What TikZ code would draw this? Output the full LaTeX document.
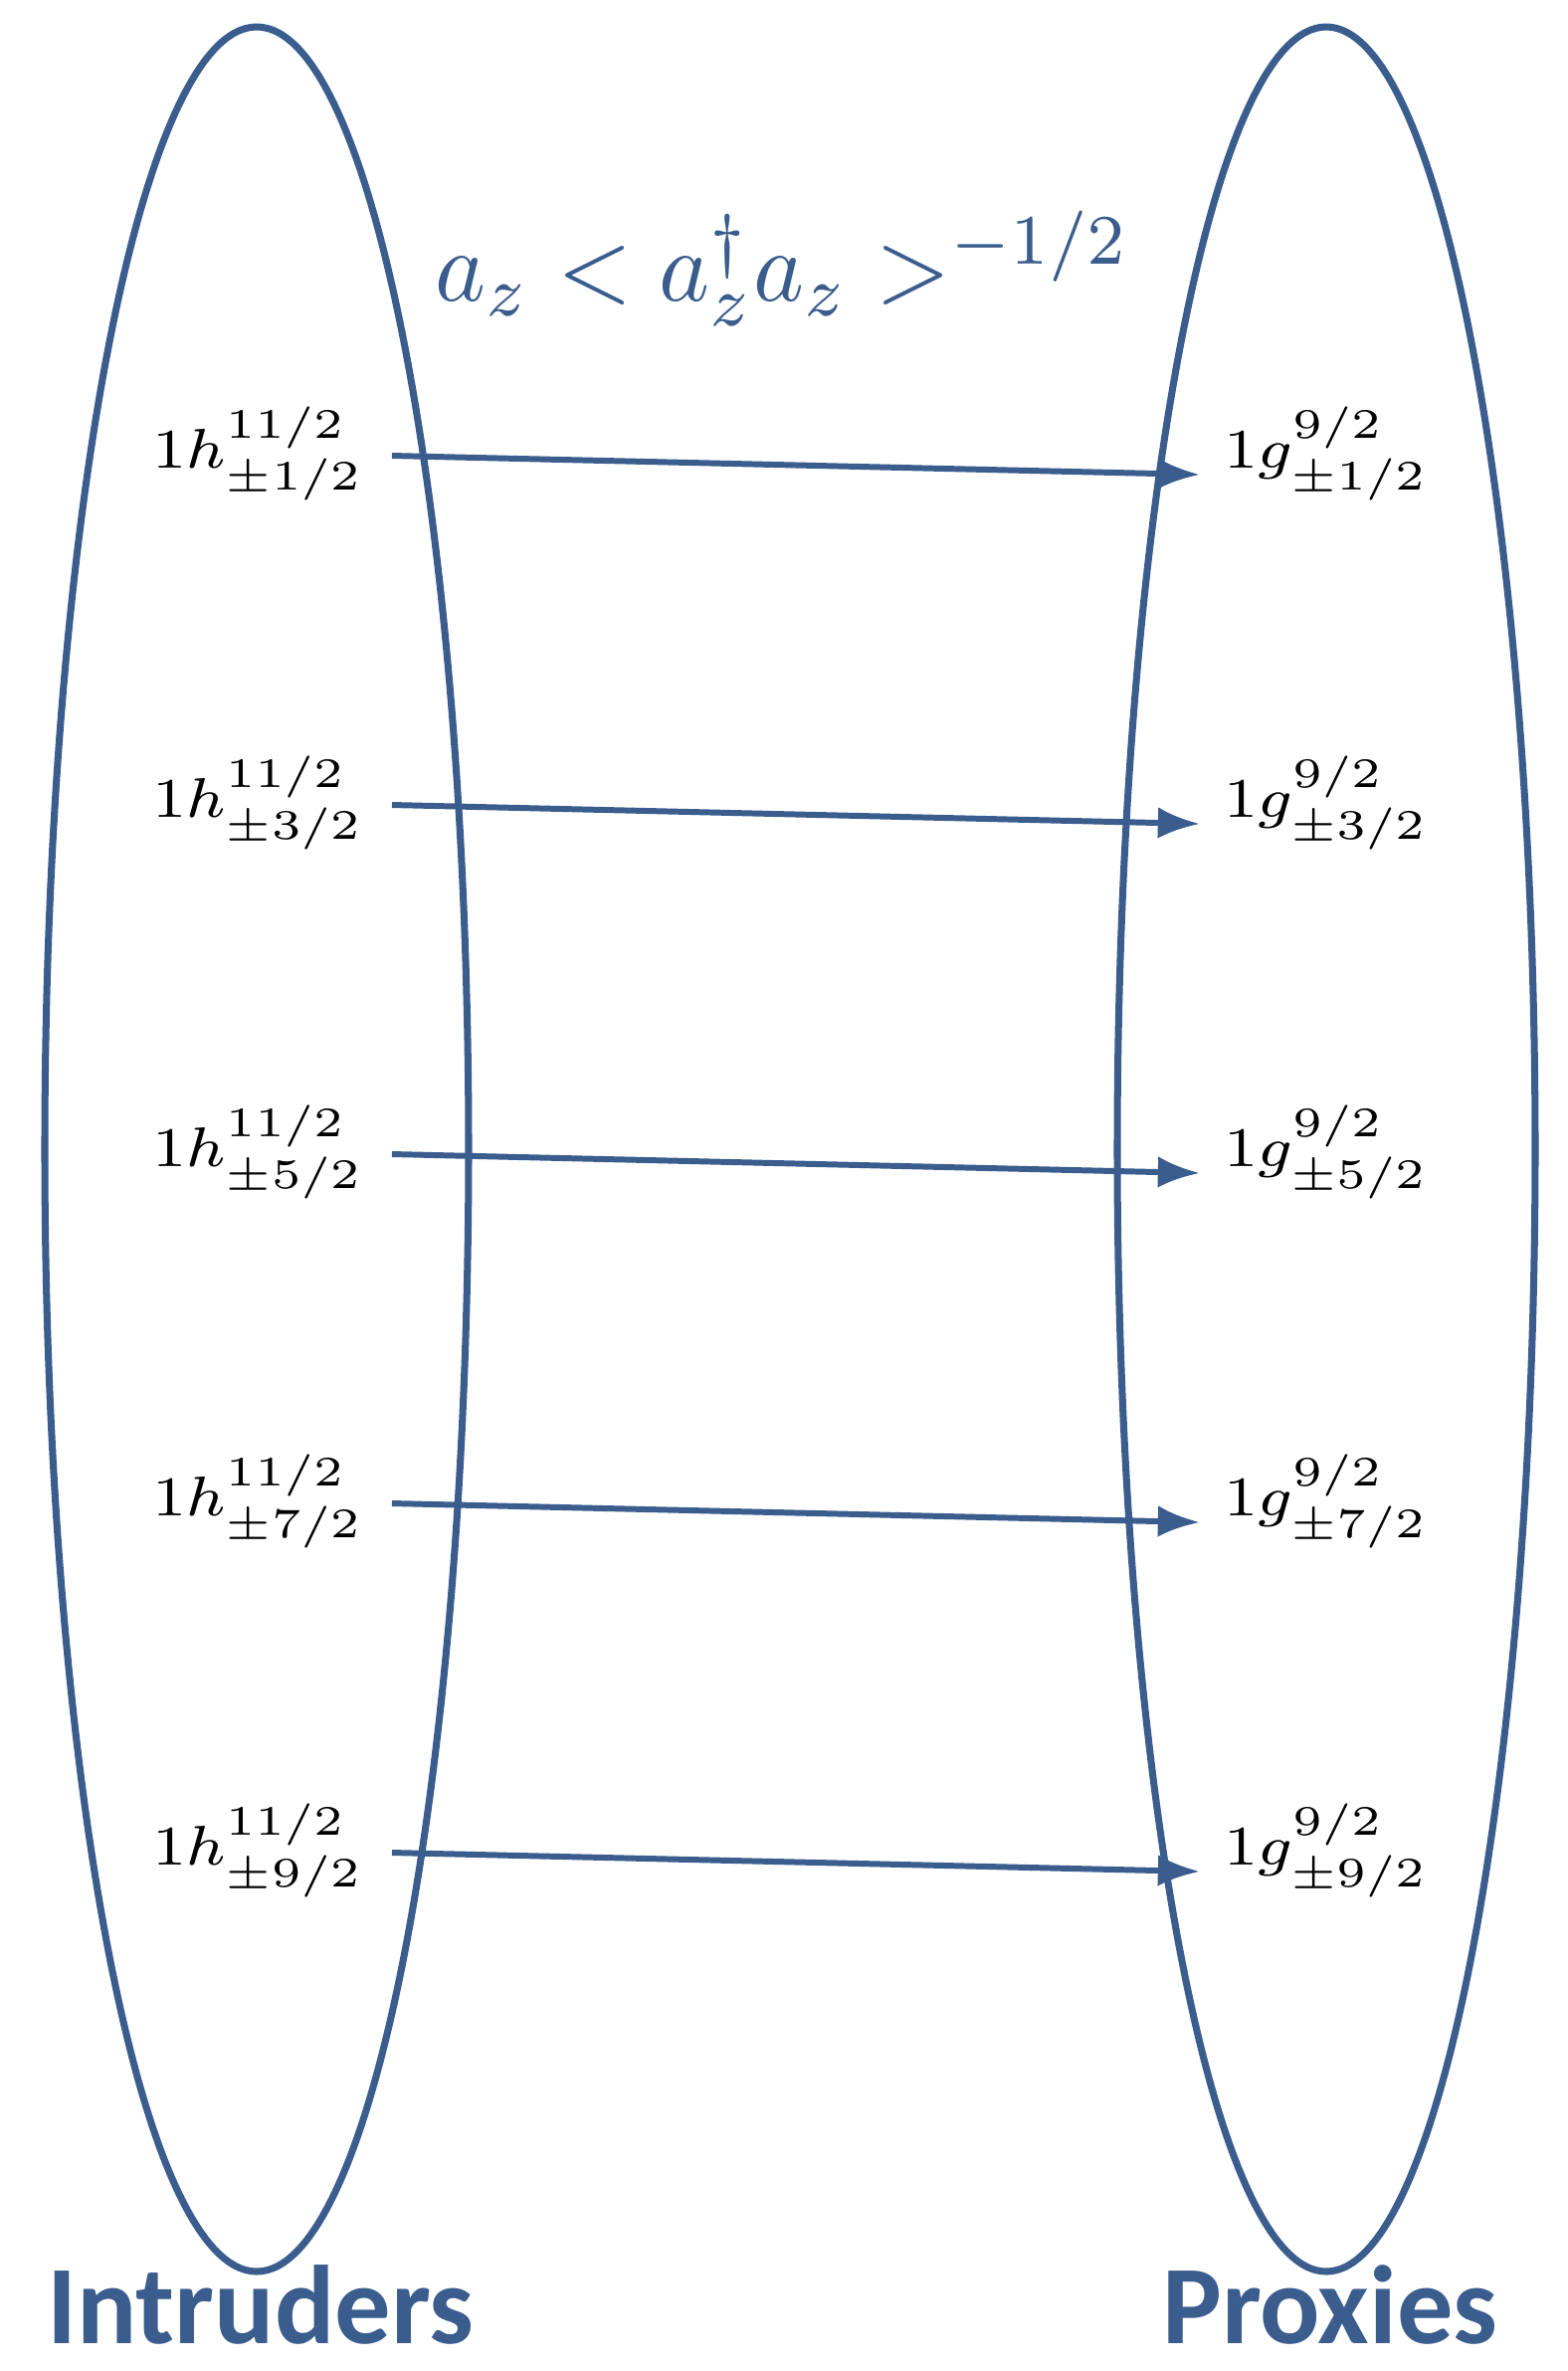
\documentclass[tikz,border=0pt]{standalone}
\usepackage{amsmath,amsfonts,amssymb}
\usepackage{fontspec}
\newfontfamily\sidefont{Carlito}
\usetikzlibrary{arrows.meta,calc,positioning}
\definecolor{ellblue}{RGB}{58,93,142}

\begin{document}
\begin{tikzpicture}[
       lab/.style={anchor=base west,inner sep=0pt,xscale=2.28,yscale=2.0,font=\footnotesize},
       ell/.style={ellblue,line width=2pt},
       arr/.style={ellblue,line width=1.7pt,-{Latex[length=12pt,width=9pt]}},
       side/.style={anchor=base,inner sep=0pt,text=ellblue,font=\sidefont\bfseries\fontsize{32}{36}\selectfont}]
       \useasboundingbox (0,0) rectangle (15.76,-23.83);
       \draw[ell] (2.58,-11.55) ellipse (2.13 and 11.28);
       \draw[ell] (13.33,-11.55) ellipse (2.10 and 11.28);
       \node[anchor=base,inner sep=0pt,xscale=2.75,yscale=2.9] (op) at (7.87,-3.02) {\color{ellblue}$a_z < a_z^\dagger a_z >^{-1/2}$};
       \node[lab] (h1) at (1.52,-4.70) {$1h^{11/2}_{\pm 1/2}$};
       \node[lab] (h3) at (1.52,-8.21) {$1h^{11/2}_{\pm 3/2}$};
       \node[lab] (h5) at (1.52,-11.72) {$1h^{11/2}_{\pm 5/2}$};
       \node[lab] (h7) at (1.52,-15.23) {$1h^{11/2}_{\pm 7/2}$};
       \node[lab] (h9) at (1.52,-18.74) {$1h^{11/2}_{\pm 9/2}$};
       \node[lab] (g1) at (12.29,-4.70) {$1g^{9/2}_{\pm 1/2}$};
       \node[lab] (g3) at (12.29,-8.21) {$1g^{9/2}_{\pm 3/2}$};
       \node[lab] (g5) at (12.29,-11.72) {$1g^{9/2}_{\pm 5/2}$};
       \node[lab] (g7) at (12.29,-15.23) {$1g^{9/2}_{\pm 7/2}$};
       \node[lab] (g9) at (12.29,-18.74) {$1g^{9/2}_{\pm 9/2}$};
       \draw[arr] ([shift={(0.27,0.12)}]h1.base east) -- ([shift={(-0.23,-0.07)}]g1.base west);
       \draw[arr] ([shift={(0.27,0.12)}]h3.base east) -- ([shift={(-0.23,-0.07)}]g3.base west);
       \draw[arr] ([shift={(0.27,0.12)}]h5.base east) -- ([shift={(-0.23,-0.07)}]g5.base west);
       \draw[arr] ([shift={(0.27,0.12)}]h7.base east) -- ([shift={(-0.23,-0.07)}]g7.base west);
       \draw[arr] ([shift={(0.27,0.12)}]h9.base east) -- ([shift={(-0.23,-0.07)}]g9.base west);
       \node[side] (intr) at (2.62,-23.55) {Intruders};
       \node[side] (prox) at (13.37,-23.55) {Proxies};
     \end{tikzpicture}
\end{document}
